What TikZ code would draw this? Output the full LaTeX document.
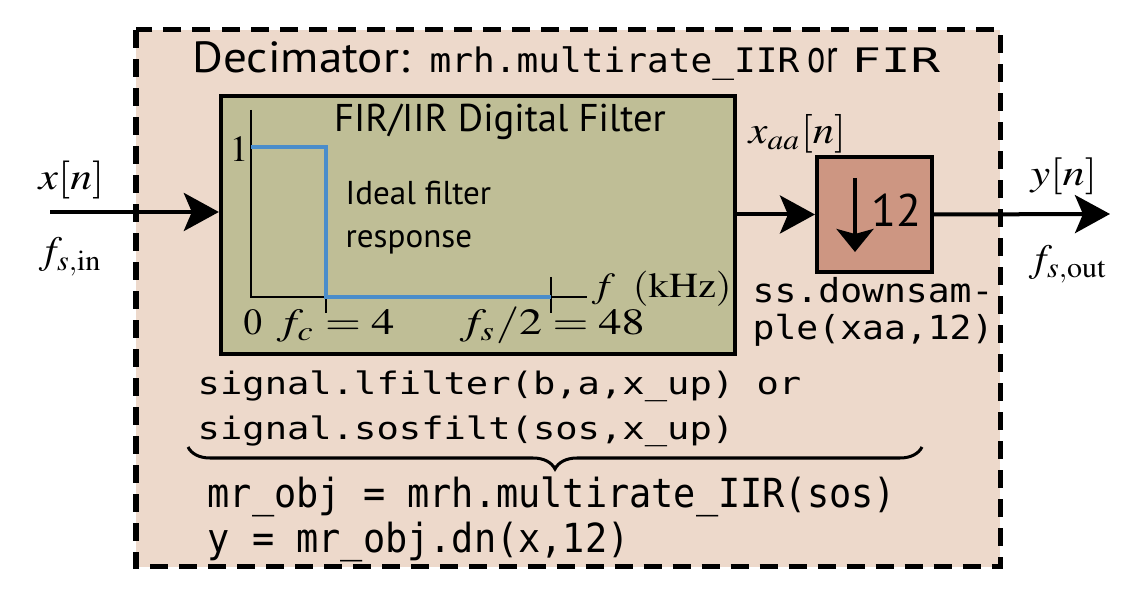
\documentclass[tikz,border=0pt]{standalone}
\usepackage{mathptmx}
\usepackage[no-math]{fontspec}
\setmainfont{PT Sans}
\newfontfamily\codefont{DejaVu Sans Mono}
\usetikzlibrary{arrows.meta,positioning,decorations.pathreplacing}

\definecolor{decfond}{HTML}{EDD9CB}
\definecolor{filtfond}{HTML}{BFBE96}
\definecolor{dsfond}{HTML}{CD9682}
\definecolor{reponse}{HTML}{4A8DCB}

\newcommand{\taille}[1]{\fontsize{#1}{#1}\selectfont}
\newcommand{\etire}[2]{\scalebox{#1}[1]{#2}}
\newcommand{\us}{\char95\relax}

\tikzset{
    lbl/.style={inner sep=0pt, anchor=base west},
    bloc/.style={draw, line width=0.04cm},
    fleche/.style={line width=0.04cm, -{Stealth[length=0.35cm,width=0.38cm,inset=0.08cm]}}
}

\begin{document}
\begin{tikzpicture}[x=0.01cm,y=-0.01cm]

\useasboundingbox (0,0) rectangle (1133,604);

% Cadre du décimateur
\draw[fill=decfond, line width=0.05cm, dash pattern=on 0.18cm off 0.11cm]
(136,30)
rectangle
(1000,567);

\node[lbl] (titre) at (192,73) {\taille{12.4}\etire{1.08}{Decimator:}};
\node[lbl] (titrecode) at (429,73) {\codefont\taille{9.6}\etire{1.07}{mrh.multirate\us IIR}};
\node[lbl] (titreou) at (807,73) {\taille{13.5}\etire{0.72}{or}};
\node[lbl] (titrefir) at (851,73) {\codefont\taille{9.6}\etire{1.45}{FIR}};

% Filtre
\node[bloc, fill=filtfond, minimum width=5.14cm, minimum height=2.58cm]
(filtre) at (478,225) {};

\node[lbl, anchor=base] (titrefiltre) at (500,132)
{\taille{11}FIR/IIR Digital Filter};

% Axes
\draw[line width=0.012cm]
(251,110)
--
(251,297)
--
(587,297);

\draw[line width=0.012cm] (326,297) -- (326,313);
\draw[line width=0.012cm] (551,277) -- (551,313);

% Réponse idéale
\draw[reponse, line width=0.04cm]
(251,147)
--
(326,147)
--
(326,297)
--
(551,297);

\node[lbl] (ideal) at (345,205) {\taille{9.4}Ideal filter};
\node[lbl] (reptxt) at (345,248) {\taille{9.4}response};

\node[lbl, anchor=base east] (un) at (249,162) {\taille{10.5}$1$};
\node[lbl] (zero) at (243,335) {\taille{10.5}$0$};
\node[lbl] (fc) at (276,335) {\taille{10.5}\etire{1.25}{$f_c=4$}};
\node[lbl] (fs) at (459,335) {\taille{10.5}\etire{1.25}{$f_s/2=48$}};
\node[lbl] (axef) at (591,298) {\taille{10}\etire{1.15}{$f\;\;(\mathrm{kHz})$}};

% Sous-échantillonneur
\node[bloc, fill=dsfond, minimum width=1.15cm, minimum height=1.15cm]
(ds) at (874.5,214.5) {};

\draw[line width=0.04cm, -{Stealth[length=0.23cm,width=0.37cm,inset=0.05cm]}]
(855,178)
--
(855,252);

\node[lbl] (douze) at (871,227) {\taille{13}12};

\node[lbl] (dsa) at (752,303) {\codefont\taille{9.4}\etire{1.1}{ss.downsam-}};
\node[lbl] (dsb) at (752,340) {\codefont\taille{9.4}\etire{1.1}{ple(xaa,12)}};

% Signaux
\coordinate (entree) at (50,212);
\coordinate (sortie) at (1110,214);

\draw[fleche] (entree) -- (entree -| filtre.west);
\draw[fleche] (ds.west -| filtre.east) -- (ds.west);
\draw[fleche] (ds.east) -- (sortie);

\node[lbl] (xn) at (38,190) {\taille{10.8}\etire{1.15}{$x[n]$}};
\node[lbl] (fsin) at (38,264) {\taille{11}\etire{1.05}{$f_{s,\mathrm{in}}$}};
\node[lbl] (xaa) at (748,144) {\taille{11}\etire{1.1}{$x_{aa}[n]$}};
\node[lbl] (yn) at (1030,186) {\taille{10.5}\etire{1.2}{$y[n]$}};
\node[lbl] (fsout) at (1028,272) {\taille{11}\etire{1.05}{$f_{s,\mathrm{out}}$}};

% Code
\node[lbl] (code1) at (197,395)
{\codefont\taille{8.8}\etire{1.2}{signal.lfilter(b,a,x\us up) or}};
\node[lbl] (code2) at (197,440)
{\codefont\taille{8.8}\etire{1.2}{signal.sosfilt(sos,x\us up)}};

\draw[line width=0.03cm, decorate, decoration={brace, mirror, amplitude=0.22cm}]
(188,447)
--
(922,447);

\node[lbl] (code3) at (207,508)
{\codefont\taille{11.4}\etire{0.92}{mr\us obj = mrh.multirate\us IIR(sos)}};
\node[lbl] (code4) at (207,553)
{\codefont\taille{11.4}\etire{0.92}{y = mr\us obj.dn(x,12)}};

\end{tikzpicture}
\end{document}
